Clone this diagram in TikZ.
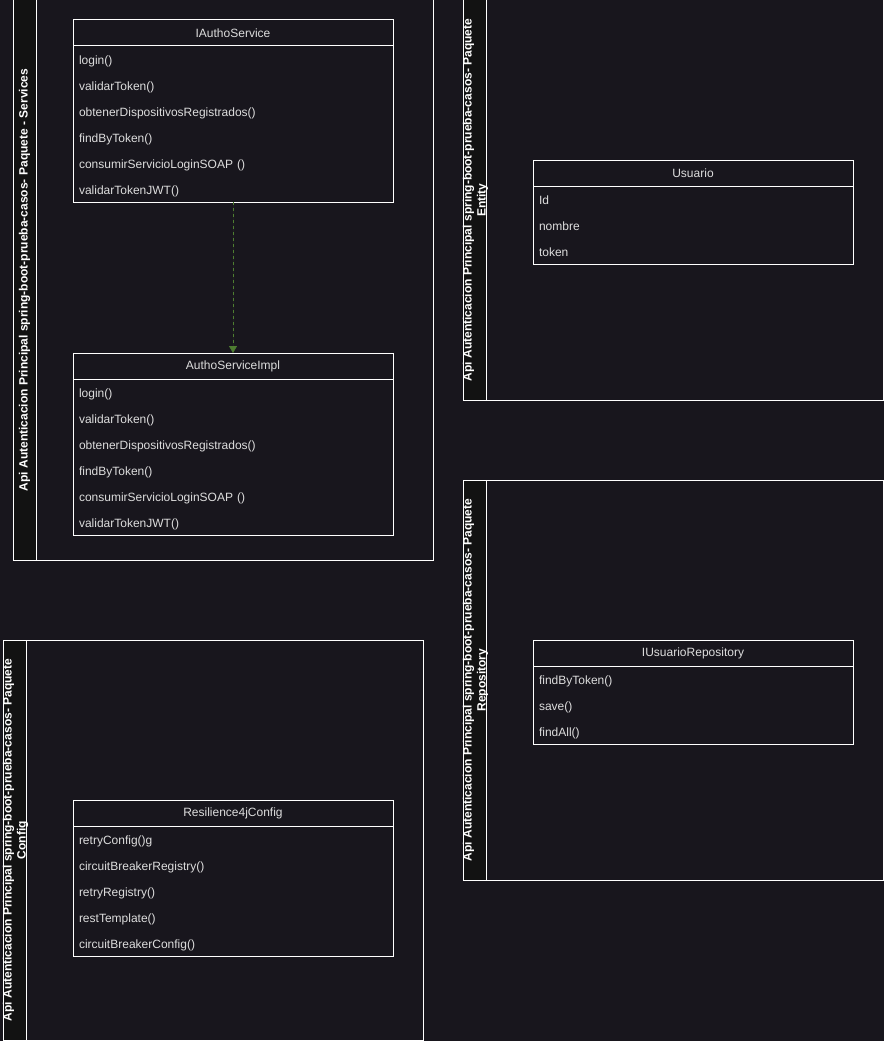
\documentclass[tikz,border=0pt]{standalone}
\usepackage{fontspec}
\setmainfont{Liberation Sans}
\usepackage{tikz}
\usetikzlibrary{arrows.meta,positioning}
\definecolor{bgdark}{HTML}{18161D}
\definecolor{stripdark}{HTML}{121212}
\definecolor{labelgray}{HTML}{DDDDDD}
\definecolor{realizegreen}{HTML}{4E7D31}
\tikzset{
  pool/.style={rectangle,draw=white,line width=1pt,fill=bgdark,minimum width=420pt,
    minimum height=#1,anchor=north west,inner sep=0pt,outer sep=0pt},
  poolstrip/.style={rectangle,draw=white,line width=1pt,fill=stripdark,minimum width=23pt,
    minimum height=#1,anchor=north west,inner sep=0pt,outer sep=0pt},
  pooltitle/.style={rotate=90,text=white,font=\bfseries\fontsize{12}{14}\selectfont,
    align=center,inner sep=0pt},
  classhead/.style={rectangle,draw=white,line width=1pt,fill=bgdark,minimum width=320pt,
    minimum height=26pt,anchor=north west,inner sep=0pt,outer sep=0pt,
    text=labelgray,font=\fontsize{12}{14}\selectfont},
  classrow/.style={rectangle,minimum height=26pt,text width=308pt,inner xsep=6pt,inner ysep=0pt,
    outer sep=0pt,align=left,text height=11pt,text depth=1pt,
    text=labelgray,font=\fontsize{12}{14}\selectfont},
  classbox/.style={draw=white,line width=1pt},
  realize/.style={-{Triangle[length=7pt,width=8pt]},dash pattern=on 3pt off 3pt,
    line width=0.8pt,draw=realizegreen,fill=realizegreen},
}
\begin{document}
\begin{tikzpicture}[x=1pt,y=-1pt]
  \fill[bgdark] (0,0) rectangle (884,1041);
  \useasboundingbox (0,0) rectangle (884,1041);
  % packages
  \node[pool=560pt] (svc) at (13,0) {};
  \node[poolstrip=560pt] (svcstrip) at (13,0) {};
  \node[pooltitle] (svctitle) at (svcstrip.center)
    {Api Autenticacion Principal spring-boot-prueba-casos- Paquete - Services};
  \node[pool=400pt] (ent) at (463,0) {};
  \node[poolstrip=400pt] (entstrip) at (463,0) {};
  \node[pooltitle] (enttitle) at ([xshift=1pt]entstrip.center)
    {Api Autenticacion Principal spring-boot-prueba-casos- Paquete\\Entity};
  \node[pool=400pt] (cfg) at (3,640) {};
  \node[poolstrip=400pt] (cfgstrip) at (3,640) {};
  \node[pooltitle] (cfgtitle) at ([xshift=1pt]cfgstrip.center)
    {Api Autenticacion Principal spring-boot-prueba-casos- Paquete\\Config};
  \node[pool=400pt] (repo) at (463,480) {};
  \node[poolstrip=400pt] (repostrip) at (463,480) {};
  \node[pooltitle] (repotitle) at ([xshift=1pt]repostrip.center)
    {Api Autenticacion Principal spring-boot-prueba-casos- Paquete\\Repository};
  % classes
  \node[classhead,alias=ias-0] (ias) at (73,20) {IAuthoService};
  \foreach \m [count=\i, remember=\i as \j (initially 0)] in
    {login(),validarToken(),obtenerDispositivosRegistrados(),findByToken(),
     consumirServicioLoginSOAP (),validarTokenJWT()}
    \node[classrow,below=0pt of ias-\j] (ias-\i) {\m};
  \draw[classbox] (ias-1.north west) rectangle (ias-6.south east);
  \node[classhead,alias=asi-0] (asi) at (73,353) {AuthoServiceImpl};
  \foreach \m [count=\i, remember=\i as \j (initially 0)] in
    {login(),validarToken(),obtenerDispositivosRegistrados(),findByToken(),
     consumirServicioLoginSOAP (),validarTokenJWT()}
    \node[classrow,below=0pt of asi-\j] (asi-\i) {\m};
  \draw[classbox] (asi-1.north west) rectangle (asi-6.south east);
  \node[classhead,alias=usr-0] (usr) at (533,160) {Usuario};
  \foreach \m [count=\i, remember=\i as \j (initially 0)] in {Id,nombre,token}
    \node[classrow,below=0pt of usr-\j] (usr-\i) {\m};
  \draw[classbox] (usr-1.north west) rectangle (usr-3.south east);
  \node[classhead,alias=iur-0] (iur) at (533,640) {IUsuarioRepository};
  \foreach \m [count=\i, remember=\i as \j (initially 0)] in {findByToken(),save(),findAll()}
    \node[classrow,below=0pt of iur-\j] (iur-\i) {\m};
  \draw[classbox] (iur-1.north west) rectangle (iur-3.south east);
  \node[classhead,alias=r4j-0] (r4j) at (73,800) {Resilience4jConfig};
  \foreach \m [count=\i, remember=\i as \j (initially 0)] in
    {retryConfig()g,circuitBreakerRegistry(),retryRegistry(),restTemplate(),circuitBreakerConfig()}
    \node[classrow,below=0pt of r4j-\j] (r4j-\i) {\m};
  \draw[classbox] (r4j-1.north west) rectangle (r4j-5.south east);
  % realization
  \draw[realize] (ias-6.south) -- (asi.north);
\end{tikzpicture}
\end{document}
